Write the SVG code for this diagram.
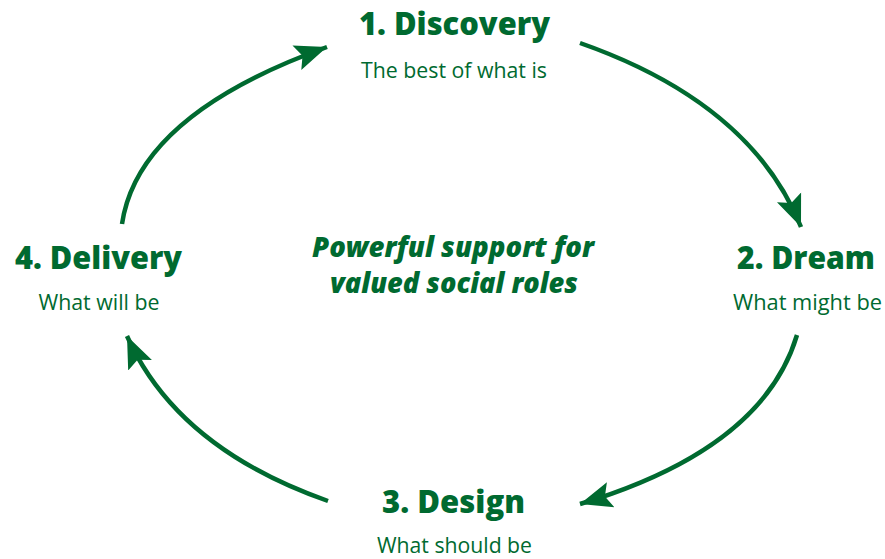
<svg xmlns="http://www.w3.org/2000/svg" width="885" height="559" viewBox="0 0 885 559">
<style>
.t{font-family:"Open Sans","Noto Sans","Liberation Sans",sans-serif;fill:#006a30;text-anchor:middle}
.h{font-weight:800;font-size:32px}
.s{font-size:21.5px}
.c{font-weight:800;font-style:italic;font-size:29px}
.a{fill:none;stroke:#006a30;stroke-width:4.5px;marker-end:url(#ah)}
</style>
<defs>
<marker id="ah" markerUnits="userSpaceOnUse" markerWidth="34" markerHeight="30" viewBox="0 0 34 30" refX="32" refY="15" orient="auto">
<path d="M0,2 L32,15 L0,28 L6,15 Z" fill="#006a30"/>
</marker>
</defs>
<rect width="885" height="559" fill="#fff"/>
<g id="connectors">
<path class="a" d="M122,224 Q138,115 327,47"/>
<path class="a" d="M580,43 Q751,103 801,227"/>
<path class="a" d="M797,335 Q763,449 580,504"/>
<path class="a" d="M328,501 Q177,448 127,336"/>
</g>
<g id="discovery">
<text class="t h" x="454.5" y="35" textLength="191" lengthAdjust="spacingAndGlyphs">1. Discovery</text>
<text class="t s" x="454" y="78" textLength="186" lengthAdjust="spacingAndGlyphs">The best of what is</text>
</g>
<g id="dream">
<text class="t h" x="806" y="269" textLength="138" lengthAdjust="spacingAndGlyphs">2. Dream</text>
<text class="t s" x="807.5" y="310" textLength="149" lengthAdjust="spacingAndGlyphs">What might be</text>
</g>
<g id="design">
<text class="t h" x="453.5" y="513" textLength="143" lengthAdjust="spacingAndGlyphs">3. Design</text>
<text class="t s" x="454.5" y="553" textLength="155" lengthAdjust="spacingAndGlyphs">What should be</text>
</g>
<g id="delivery">
<text class="t h" x="98.5" y="269" textLength="167" lengthAdjust="spacingAndGlyphs">4. Delivery</text>
<text class="t s" x="99" y="310" textLength="121" lengthAdjust="spacingAndGlyphs">What will be</text>
</g>
<g id="center">
<text class="t c" x="453" y="257" textLength="282" lengthAdjust="spacingAndGlyphs">Powerful support for</text>
<text class="t c" x="454" y="293" textLength="248" lengthAdjust="spacingAndGlyphs">valued social roles</text>
</g>
</svg>
